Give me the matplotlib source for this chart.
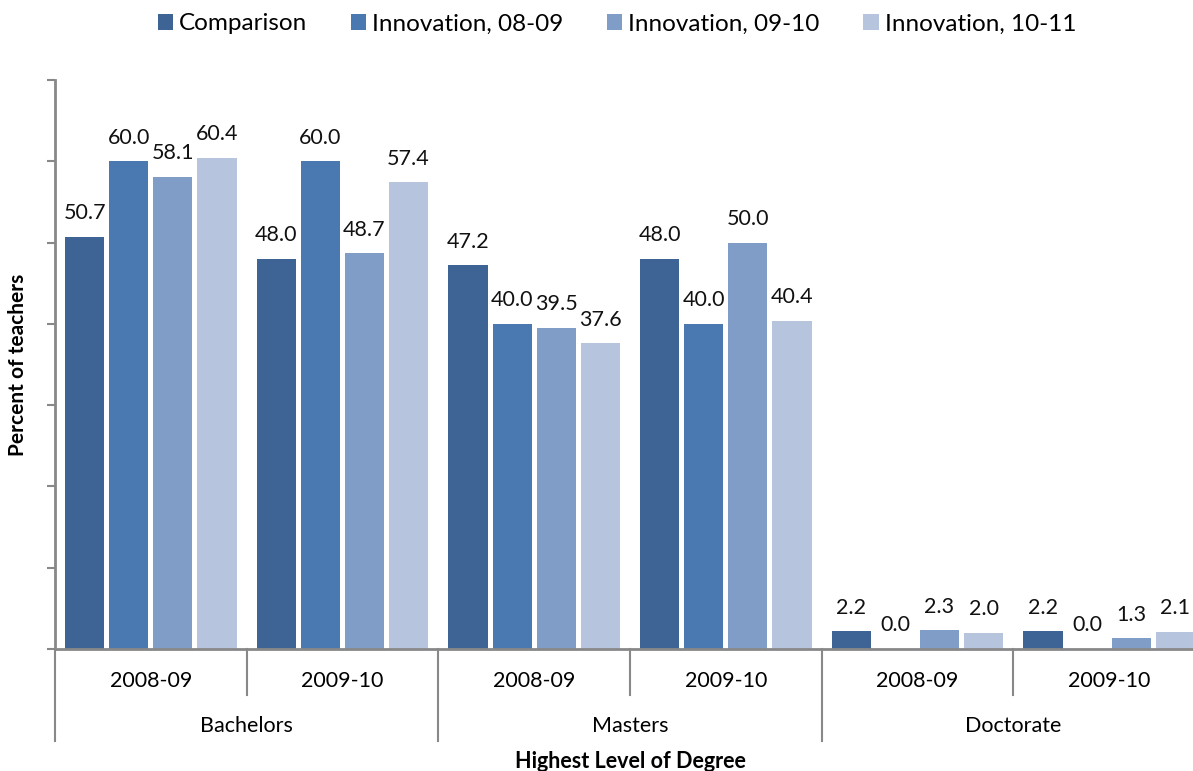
import matplotlib
matplotlib.use("Agg")
import matplotlib.pyplot as plt
from matplotlib.patches import Patch
from matplotlib.lines import Line2D
import numpy as np

plt.rcParams['font.family'] = ['Lato', 'DejaVu Sans']

degrees = ["Bachelors", "Masters", "Doctorate"]
years = ["2008-09", "2009-10"]
series_names = ["Comparison", "Innovation, 08-09", "Innovation, 09-10", "Innovation, 10-11"]
comparison = [50.7, 48.0, 47.2, 48.0, 2.2, 2.2]
innov_0809 = [60.0, 60.0, 40.0, 40.0, 0.0, 0.0]
innov_0910 = [58.1, 48.7, 39.5, 50.0, 2.3, 1.3]
innov_1011 = [60.4, 57.4, 37.6, 40.4, 2.0, 2.1]
y_ticks = [0, 10, 20, 30, 40, 50, 60, 70]

series = [comparison, innov_0809, innov_0910, innov_1011]
colors = ["#3d6494", "#4a78b0", "#7f9dc6", "#b6c4de"]

W, H = 1193, 771
fig = plt.figure(figsize=(W / 100, H / 100), dpi=100)
ax = fig.add_axes([55 / W, 1 - 649 / H, (1205 - 55) / W, (649 - 80) / H])

n_clusters = len(degrees) * len(years)
x = np.arange(n_clusters)
bw = 0.204
step = 0.23
offsets = (np.arange(4) - 1.5) * step
for i, (vals, c) in enumerate(zip(series, colors)):
    ax.bar(x + offsets[i], vals, width=bw, color=c, label=series_names[i], zorder=2)
    for xi, v in zip(x + offsets[i], vals):
        ax.annotate(f"{v:.1f}", (xi, v), xytext=(0, 17), textcoords="offset points",
                    ha="center", va="center", fontsize=15.5, color="#111111")

ax.set_xlim(-0.5, n_clusters - 0.5)
ax.set_ylim(0, 70)
ax.set_yticks(y_ticks)
ax.set_yticklabels([])
ax.tick_params(axis='y', direction='out', length=6, width=1.5, color='#888888')
ax.set_xticks([])
for s in ['top', 'right']:
    ax.spines[s].set_visible(False)
for s in ['left', 'bottom']:
    ax.spines[s].set_color('#888888')
    ax.spines[s].set_linewidth(2)

fig.text(18 / W, 1 - 365 / H, "Percent of teachers", rotation=90, ha='center', va='center',
         fontsize=15, fontweight='bold')

# hierarchical category axis
trans = ax.get_xaxis_transform()
px = 1 / (649 - 80)  # axes fraction per pixel
for k in range(n_clusters):
    ax.text(k, -32 * px, years[k % 2], transform=trans, ha='center', va='center', fontsize=15.5)
for d, name in enumerate(degrees):
    ax.text(2 * d + 0.5, -77 * px, name, transform=trans, ha='center', va='center', fontsize=15.5)
for b in range(n_clusters):
    long = (b % 2 == 0)
    ln = -92 * px if long else -46 * px
    ax.add_line(Line2D([b - 0.5, b - 0.5], [0, ln], transform=trans, color='#888888',
                       lw=1.5, clip_on=False))
ax.text(0.5, -112 * px, "Highest Level of Degree", transform=ax.transAxes,
        ha='center', va='center', fontsize=15.5, fontweight='bold')

handles = [Patch(facecolor=c, edgecolor='none') for c in colors]
fig.legend(handles, series_names, loc='center', bbox_to_anchor=(617 / W, 1 - 24 / H), ncol=4,
           frameon=False, fontsize=17.5, handlelength=0.62, handleheight=0.62, handletextpad=0.25,
           columnspacing=1.8)

fig.savefig("out.png", dpi=100)
